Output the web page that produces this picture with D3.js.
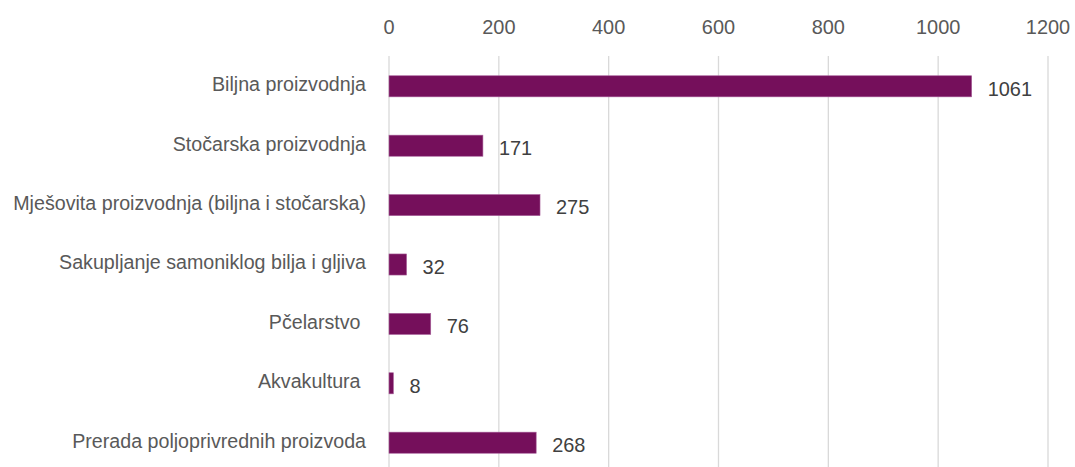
<!DOCTYPE html>
<html>
<head>
<meta charset="UTF-8" />
<script src="https://d3js.org/d3.v7.min.js"></script>
<style>
  body { margin: 0; background: #fff; }
  text { font-family: "Liberation Sans", Arial, sans-serif; white-space: pre; }
</style>
</head>
<body>
<div id="chart"></div>
<script>
var categories = ["Biljna proizvodnja", "Stočarska proizvodnja", "Mješovita proizvodnja (biljna i stočarska)",
  "Sakupljanje samoniklog bilja i gljiva", "Pčelarstvo ", "Akvakultura ", "Prerada poljoprivrednih proizvoda"];
var values = [1061, 171, 275, 32, 76, 8, 268];
var ticks = [0, 200, 400, 600, 800, 1000, 1200];

var W = 1075, H = 467;
var margin = {top: 56.6, left: 389, right: 27};

var svg = d3.select("#chart").append("svg")
  .attr("width", W).attr("height", H);

var x = d3.scaleLinear().domain([0, 1200]).range([margin.left, W - margin.right]);
var y = d3.scaleBand().domain(categories).range([margin.top, margin.top + 415.8]).paddingInner(0.645).paddingOuter(0.3225);

// squeeze digits slightly to look condensed
var numScale = 0.95;

// gridlines
svg.append("g").selectAll("line").data(ticks).enter().append("line")
  .attr("x1", d => x(d)).attr("x2", d => x(d))
  .attr("y1", 56).attr("y2", H)
  .attr("stroke", "#d9d9d9").attr("stroke-width", 1.3);

// top axis labels
svg.append("g").selectAll("text").data(ticks).enter().append("text")
  .attr("transform", d => "translate(" + x(d) + ",33.5) scale(" + numScale + ",1)")
  .attr("text-anchor", "middle")
  .attr("font-size", 21).attr("fill", "#595959")
  .text(d => d);

// bars
svg.append("g").selectAll("rect").data(values).enter().append("rect")
  .attr("x", x(0))
  .attr("y", (d, i) => y(categories[i]))
  .attr("width", d => x(d) - x(0))
  .attr("height", y.bandwidth())
  .attr("fill", "#750f5b")
  .attr("stroke", "#a8609a").attr("stroke-width", 0.6);

// category labels
var cat = svg.append("g").selectAll("text").data(categories).enter().append("text")
  .attr("text-anchor", "end")
  .attr("font-size", 21).attr("fill", "#595959")
  .text(d => d);
var longest = d3.max(cat.nodes(), n => n.getComputedTextLength());
var catScale = 353 / longest;
cat.attr("transform", d => "translate(" + (margin.left - 23) + "," + (y(d) + y.bandwidth() / 2 + 4.8) + ") scale(" + catScale + ",1)");

// value labels
svg.append("g").selectAll("text").data(values).enter().append("text")
  .attr("transform", (d, i) => "translate(" + (x(d) + 16) + "," + (y(categories[i]) + y.bandwidth() / 2 + 9.3) + ") scale(" + numScale + ",1)")
  .attr("font-size", 21).attr("fill", "#404040")
  .text(d => d);
</script>
</body>
</html>
